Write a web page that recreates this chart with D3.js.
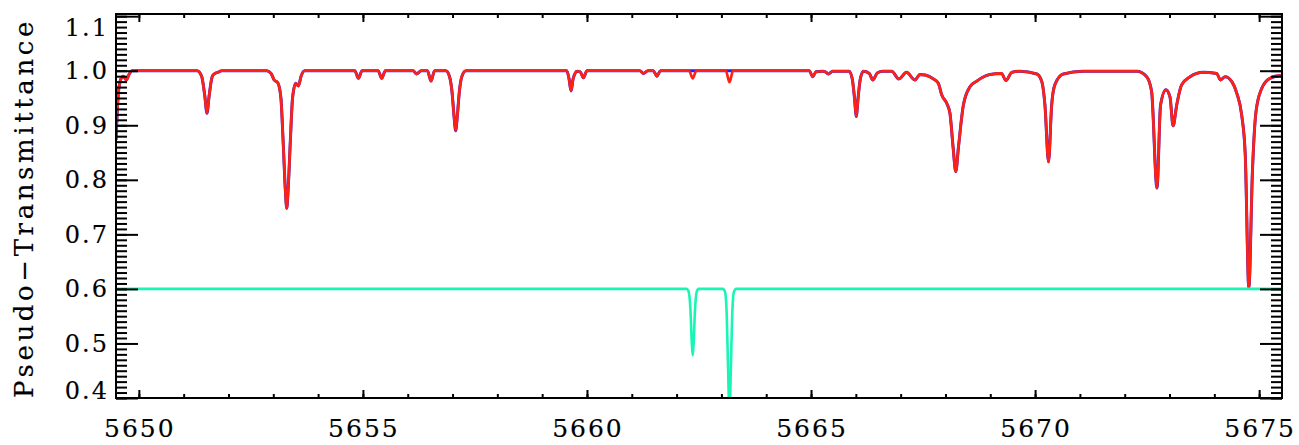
<!DOCTYPE html>
<html>
<head>
<meta charset="utf-8">
<script src="https://cdn.jsdelivr.net/npm/d3@7"></script>
<style>
  html, body { margin: 0; padding: 0; background: #fff; }
  svg { display: block; }
  text { font-family: "DejaVu Serif", "Liberation Serif", serif; fill: #000; stroke: #000; stroke-width: 0.15px; }
</style>
</head>
<body>
<svg id="chart" width="1299" height="445"></svg>
<script>
// ---------- data ----------
// observed (red) pseudo-transmittance: [wavelength (Å), value]
const observedFlux = [
  [5649.49,0.873],[5649.52,0.93],[5649.55,0.965],[5649.60,0.985],[5649.65,0.990],[5649.72,0.983],[5649.78,0.993],[5649.85,1.0],
  [5651.30,1.0],[5651.40,0.99],[5651.47,0.955],[5651.52,0.922],[5651.57,0.955],[5651.64,0.99],[5651.70,0.995],[5651.76,0.997],[5651.85,1.0],
  [5652.85,1.0],[5652.95,0.995],[5653.02,0.983],[5653.10,0.978],[5653.17,0.95],[5653.22,0.87],[5653.27,0.78],[5653.30,0.748],[5653.33,0.78],[5653.38,0.87],[5653.43,0.95],[5653.50,0.977],[5653.56,0.972],[5653.62,0.99],[5653.70,1.0],
  [5654.82,1.0],[5654.90,0.986],[5654.98,1.0],
  [5655.34,1.0],[5655.42,0.986],[5655.50,1.0],
  [5656.12,1.0],[5656.20,0.994],[5656.30,1.0],
  [5656.44,1.0],[5656.52,0.981],[5656.60,1.0],
  [5656.85,1.0],[5656.93,0.99],[5656.99,0.96],[5657.03,0.92],[5657.07,0.89],[5657.11,0.92],[5657.15,0.96],[5657.21,0.99],[5657.30,1.0],
  [5659.55,1.0],[5659.60,0.985],[5659.645,0.963],[5659.69,0.985],[5659.74,0.996],[5659.78,0.999],[5659.85,0.998],[5659.92,0.987],[5660.00,1.0],
  [5661.18,1.0],[5661.26,0.995],[5661.36,1.0],
  [5661.48,1.0],[5661.56,0.99],[5661.64,1.0],
  [5662.28,1.0],[5662.36,0.986],[5662.44,1.0],
  [5663.10,1.0],[5663.18,0.979],[5663.26,1.0],
  [5664.96,1.0],[5665.04,0.989],[5665.11,0.998],[5665.25,0.999],[5665.32,0.998],[5665.39,0.994],[5665.48,0.999],
  [5665.85,0.999],[5665.92,0.985],[5665.97,0.95],[5666.01,0.916],[5666.05,0.95],[5666.10,0.985],[5666.17,0.999],
  [5666.30,0.995],[5666.38,0.983],[5666.48,0.996],[5666.60,0.999],[5666.80,0.999],[5666.96,0.985],[5667.13,0.997],[5667.32,0.983],[5667.43,0.993],[5667.55,0.992],
  [5667.73,0.985],[5667.84,0.977],[5667.92,0.955],[5668.03,0.94],[5668.10,0.922],[5668.17,0.86],[5668.23,0.815],[5668.29,0.86],[5668.40,0.937],[5668.55,0.971],
  [5668.70,0.981],[5668.81,0.987],[5668.99,0.993],[5669.25,0.995],[5669.35,0.982],[5669.48,0.997],[5669.66,0.999],
  [5670.04,0.994],[5670.15,0.98],[5670.22,0.937],[5670.30,0.833],[5670.37,0.937],[5670.44,0.974],[5670.63,0.994],[5671.07,0.999],
  [5672.27,0.999],[5672.49,0.989],[5672.60,0.962],[5672.72,0.785],[5672.80,0.937],[5672.92,0.965],[5673.01,0.952],[5673.08,0.899],[5673.16,0.937],
  [5673.27,0.974],[5673.46,0.989],[5673.75,0.997],[5674.05,0.995],[5674.14,0.983],[5674.24,0.989],[5674.39,0.98],[5674.50,0.959],[5674.61,0.919],
  [5674.69,0.846],[5674.77,0.602],[5674.85,0.815],[5674.93,0.925],[5675.06,0.968],[5675.24,0.986],[5675.46,0.991],[5675.51,0.991]
];

// model (blue) pseudo-transmittance, without the two telluric dips
const modelFlux = [
  [5649.49,0.873],[5649.52,0.93],[5649.55,0.965],[5649.60,0.985],[5649.65,0.990],[5649.72,0.983],[5649.78,0.993],[5649.85,1.0],
  [5651.30,1.0],[5651.40,0.99],[5651.47,0.955],[5651.52,0.922],[5651.57,0.955],[5651.64,0.99],[5651.70,0.995],[5651.76,0.997],[5651.85,1.0],
  [5652.85,1.0],[5652.95,0.995],[5653.02,0.983],[5653.10,0.978],[5653.17,0.95],[5653.22,0.87],[5653.27,0.78],[5653.30,0.748],[5653.33,0.78],[5653.38,0.87],[5653.43,0.95],[5653.50,0.977],[5653.56,0.972],[5653.62,0.99],[5653.70,1.0],
  [5654.82,1.0],[5654.90,0.986],[5654.98,1.0],
  [5655.34,1.0],[5655.42,0.986],[5655.50,1.0],
  [5656.12,1.0],[5656.20,0.994],[5656.30,1.0],
  [5656.44,1.0],[5656.52,0.981],[5656.60,1.0],
  [5656.85,1.0],[5656.93,0.99],[5656.99,0.96],[5657.03,0.92],[5657.07,0.89],[5657.11,0.92],[5657.15,0.96],[5657.21,0.99],[5657.30,1.0],
  [5659.55,1.0],[5659.60,0.985],[5659.645,0.963],[5659.69,0.985],[5659.74,0.996],[5659.78,0.999],[5659.85,0.998],[5659.92,0.987],[5660.00,1.0],
  [5661.18,1.0],[5661.26,0.995],[5661.36,1.0],
  [5661.48,1.0],[5661.56,0.99],[5661.64,1.0],
  [5662.28,1.0],[5662.36,1.0],[5662.44,1.0],
  [5663.10,1.0],[5663.18,1.0],[5663.26,1.0],
  [5664.96,1.0],[5665.04,0.989],[5665.11,0.998],[5665.25,0.999],[5665.32,0.998],[5665.39,0.994],[5665.48,0.999],
  [5665.85,0.999],[5665.92,0.985],[5665.97,0.95],[5666.01,0.916],[5666.05,0.95],[5666.10,0.985],[5666.17,0.999],
  [5666.30,0.995],[5666.38,0.983],[5666.48,0.996],[5666.60,0.999],[5666.80,0.999],[5666.96,0.985],[5667.13,0.997],[5667.32,0.983],[5667.43,0.993],[5667.55,0.992],
  [5667.73,0.985],[5667.84,0.977],[5667.92,0.955],[5668.03,0.94],[5668.10,0.922],[5668.17,0.86],[5668.23,0.815],[5668.29,0.86],[5668.40,0.937],[5668.55,0.971],
  [5668.70,0.981],[5668.81,0.987],[5668.99,0.993],[5669.25,0.995],[5669.35,0.982],[5669.48,0.997],[5669.66,0.999],
  [5670.04,0.994],[5670.15,0.98],[5670.22,0.937],[5670.30,0.833],[5670.37,0.937],[5670.44,0.974],[5670.63,0.994],[5671.07,0.999],
  [5672.27,0.999],[5672.49,0.989],[5672.60,0.962],[5672.72,0.785],[5672.80,0.937],[5672.92,0.965],[5673.01,0.952],[5673.08,0.899],[5673.16,0.937],
  [5673.27,0.974],[5673.46,0.989],[5673.75,0.997],[5674.05,0.995],[5674.14,0.983],[5674.24,0.989],[5674.39,0.98],[5674.50,0.959],[5674.61,0.919],
  [5674.69,0.846],[5674.77,0.602],[5674.85,0.815],[5674.93,0.925],[5675.06,0.968],[5675.24,0.986],[5675.46,0.991],[5675.51,0.991]
];

// telluric (cyan) spectrum, shown offset at 0.6
const telluricFlux = [
  [5649.49,0.6],[5662.22,0.6],[5662.27,0.595],[5662.31,0.56],[5662.34,0.50],[5662.36,0.478],[5662.38,0.50],[5662.41,0.56],[5662.45,0.595],[5662.49,0.6],
  [5663.03,0.6],[5663.08,0.595],[5663.12,0.55],[5663.15,0.45],[5663.18,0.37],[5663.21,0.45],[5663.24,0.55],[5663.28,0.595],[5663.33,0.6],[5675.51,0.6]
];

const xDomain = [5649.49, 5675.51];
const yDomain = [0.4, 1.104];
const xMajorTicks = [5650, 5655, 5660, 5665, 5670, 5675];
const xTickLabels = ["5650", "5655", "5660", "5665", "5670", "5675"];
const xMinorTicks = d3.range(5650, 5676, 1);
const yMajorTicks = [0.4, 0.5, 0.6, 0.7, 0.8, 0.9, 1.0, 1.1];
const yTickLabels = ["0.4", "0.5", "0.6", "0.7", "0.8", "0.9", "1.0", "1.1"];
const yMinorTicks = d3.range(40, 111, 1).map(d => d / 100);
const yTitle = "Pseudo\u2212Transmittance";

// ---------- layout ----------
const L = 116, R = 1282, T = 14, B = 398;
const svg = d3.select("#chart");
const x = d3.scaleLinear().domain(xDomain).range([L, R]);
const y = d3.scaleLinear().domain(yDomain).range([B, T]);

svg.append("defs").append("clipPath").attr("id", "plotclip")
  .append("rect").attr("x", L).attr("y", T).attr("width", R - L).attr("height", B - T);

const line = d3.line().x(d => x(d[0])).y(d => y(d[1])).curve(d3.curveMonotoneX);
const plot = svg.append("g").attr("clip-path", "url(#plotclip)");
plot.append("path").datum(modelFlux).attr("d", line)
  .attr("fill", "none").attr("stroke", "#2020ff").attr("stroke-width", 3).attr("stroke-linejoin", "round");
plot.append("path").datum(observedFlux).attr("d", line)
  .attr("fill", "none").attr("stroke", "#ff2212").attr("stroke-width", 2.7).attr("stroke-linejoin", "round");
plot.append("path").datum(telluricFlux).attr("d", line)
  .attr("fill", "none").attr("stroke", "#18f5b4").attr("stroke-width", 2.6).attr("stroke-linejoin", "round");

// ---------- axes (ticks inward, IDL style) ----------
function styleAxis(g) {
  g.select(".domain").remove();
  g.selectAll("line").attr("stroke", "#000").attr("stroke-width", 2);
  g.selectAll("text").remove();
}
// bottom
svg.append("g").attr("transform", `translate(0,${B})`)
  .call(d3.axisBottom(x).tickValues(xMinorTicks).tickSize(-4).tickFormat(""))
  .call(styleAxis);
svg.append("g").attr("transform", `translate(0,${B})`)
  .call(d3.axisBottom(x).tickValues(xMajorTicks).tickSize(-8).tickFormat(""))
  .call(styleAxis);
// top
svg.append("g").attr("transform", `translate(0,${T})`)
  .call(d3.axisTop(x).tickValues(xMinorTicks).tickSize(-4).tickFormat(""))
  .call(styleAxis);
svg.append("g").attr("transform", `translate(0,${T})`)
  .call(d3.axisTop(x).tickValues(xMajorTicks).tickSize(-8).tickFormat(""))
  .call(styleAxis);
// left
svg.append("g").attr("transform", `translate(${L},0)`)
  .call(d3.axisLeft(y).tickValues(yMinorTicks).tickSize(-11).tickFormat(""))
  .call(styleAxis);
svg.append("g").attr("transform", `translate(${L},0)`)
  .call(d3.axisLeft(y).tickValues(yMajorTicks).tickSize(-22).tickFormat(""))
  .call(styleAxis);
// right
svg.append("g").attr("transform", `translate(${R},0)`)
  .call(d3.axisRight(y).tickValues(yMinorTicks).tickSize(-11).tickFormat(""))
  .call(styleAxis);
svg.append("g").attr("transform", `translate(${R},0)`)
  .call(d3.axisRight(y).tickValues(yMajorTicks).tickSize(-22).tickFormat(""))
  .call(styleAxis);

// frame
svg.append("rect").attr("x", L).attr("y", T).attr("width", R - L).attr("height", B - T)
  .attr("fill", "none").attr("stroke", "#000").attr("stroke-width", 2);

// tick labels
svg.append("g").selectAll("text").data(xMajorTicks).join("text")
  .attr("x", d => x(d) + 1).attr("y", 437)
  .attr("text-anchor", "middle").attr("font-size", 25).attr("letter-spacing", 2)
  .text((d, i) => xTickLabels[i]);
svg.append("g").selectAll("text").data(yMajorTicks).join("text")
  .attr("x", 109)
  .attr("y", d => Math.max(27, Math.min(390, y(d))) + 8.5)
  .attr("text-anchor", "end").attr("font-size", 24).attr("letter-spacing", 2)
  .text((d, i) => yTickLabels[i]);

// y title
svg.append("text")
  .attr("transform", `translate(33,${(T + B) / 2 + 2}) rotate(-90)`)
  .attr("text-anchor", "middle").attr("font-size", 26).attr("letter-spacing", 3.6)
  .text(yTitle);
</script>
</body>
</html>
